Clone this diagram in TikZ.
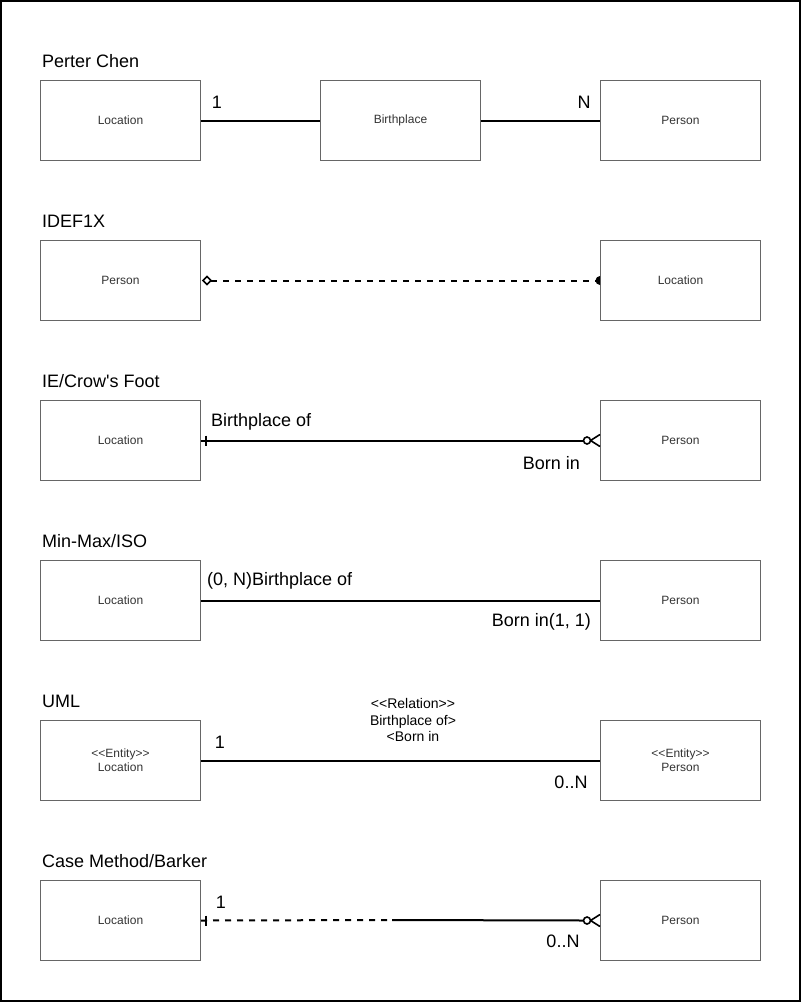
\documentclass[tikz,border=0pt]{standalone}
\usepackage{fontspec}
\setmainfont[Ligatures={NoCommon}]{Liberation Sans}
\usetikzlibrary{calc}
\definecolor{boxgray}{HTML}{666666}
\definecolor{txtgray}{HTML}{333333}
\begin{document}
\begin{tikzpicture}[x=1pt,y=-1pt,
  ent/.style={draw=boxgray,line width=1pt,minimum width=160pt,minimum height=80pt,inner sep=0pt,anchor=north west,font=\fontsize{12}{14}\selectfont,text=txtgray,align=center},
  ttl/.style={anchor=west,inner sep=0pt,font=\fontsize{18}{21}\selectfont},
  lbl/.style={inner sep=0pt,font=\fontsize{18}{21}\selectfont},
  conn/.style={line width=2pt},
  dsh/.style={line width=2pt,dash pattern=on 6pt off 6pt},
  mk/.style={line width=1.6pt}]
\useasboundingbox (0,0) rectangle (801,1002);
\draw[line width=2pt] (1,1) rectangle (800,1001);

% Row 1: Chen
\node[ttl] (t1) at (42,61) {Perter Chen};
\node[ent] (l1) at (40,80) {Location};
\node[ent] (b1) at (320,80) {Birthplace};
\node[ent] (p1) at (600,80) {Person};
\draw[conn] (l1.east) -- (b1.west);
\draw[conn] (b1.east) -- (p1.west);
\node[lbl] (n1a) at (217,102) {1};
\node[lbl] (n1b) at (584,102) {N};

% Row 2: IDEF1X
\node[ttl] (t2) at (42,221) {IDEF1X};
\node[ent] (p2) at (40,240) {Person};
\node[ent] (l2) at (600,240) {Location};
\coordinate (d2) at ($(p2.east)+(10,0)$);
\draw[dsh] (d2) -- ($(l2.west)+(-4,0)$);
\draw[mk,fill=white] ($(p2.east)+(2,0)$) -- ($(p2.east)+(6,-4)$) -- (d2) -- ($(p2.east)+(6,4)$) -- cycle;
\begin{scope}
\clip ($(l2.west)+(-6,-6)$) rectangle ($(l2.west)+(0,6)$);
\fill (l2.west) circle[radius=4.5];
\end{scope}

% Row 3: Crow's foot
\node[ttl] (t3) at (42,381) {IE/Crow\textquotesingle s Foot};
\node[ent] (l3) at (40,400) {Location};
\node[ent] (p3) at (600,400) {Person};
\coordinate (c3) at ($(p3.west)+(-13,0)$);
\draw[conn] (l3.east) -- ($(c3)+(-3.5,0)$);
\draw[mk] ($(l3.east)+(5,-5)$) -- ($(l3.east)+(5,5)$);
\draw[mk] ($(p3.west)+(0,-6)$) -- ($(c3)+(3.5,0)$) -- ($(p3.west)+(0,6)$);
\draw[mk,fill=white] (c3) circle[radius=3.5];
\node[lbl,anchor=west] (r3a) at (211,422) {Birthplace of};
\node[lbl,anchor=east] (r3b) at (580,463) {Born in};

% Row 4: Min-Max/ISO
\node[ttl] (t4) at (42,541) {Min-Max/ISO};
\node[ent] (l4) at (40,560) {Location};
\node[ent] (p4) at (600,560) {Person};
\draw[conn] (l4.east) -- (p4.west);
\node[lbl,anchor=west] (r4a) at (207,581) {(0, N)Birthplace of};
\node[lbl,anchor=east] (r4b) at (591,622) {Born in(1, 1)};

% Row 5: UML
\node[ttl] (t5) at (42,701) {UML};
\node[ent] (l5) at (40,720) {\fontsize{12}{17}\selectfont<{}<Entity>{}>\\Location};
\node[ent] (p5) at (600,720) {\fontsize{12}{17}\selectfont<{}<Entity>{}>\\Person};
\draw[conn] (l5.east) -- (p5.west);
\node[lbl] (u5a) at (220,742) {1};
\node[lbl] (u5b) at (571,782) {0..N};
\node[inner sep=0pt,align=center,font=\fontsize{14}{16.5}\selectfont] (rel) at (413,720) {<{}<Relation>{}>\\Birthplace of>\\<Born in};

% Row 6: Barker
\node[ttl] (t6) at (42,861) {Case Method/Barker};
\node[ent] (l6) at (40,880) {Location};
\node[ent] (p6) at (600,880) {Person};
\coordinate (m6) at (392,920);
\coordinate (c6) at ($(p6.west)+(-13,0)$);
\draw[dsh] (l6.east) -- (m6);
\draw[conn] (m6) -- ($(c6)+(-3.5,0)$);
\draw[mk] ($(l6.east)+(5,-5)$) -- ($(l6.east)+(5,5)$);
\draw[mk] ($(p6.west)+(0,-6)$) -- ($(c6)+(3.5,0)$) -- ($(p6.west)+(0,6)$);
\draw[mk,fill=white] (c6) circle[radius=3.5];
\node[lbl] (b6a) at (221,902) {1};
\node[lbl] (b6b) at (563,941) {0..N};
\end{tikzpicture}
\end{document}
